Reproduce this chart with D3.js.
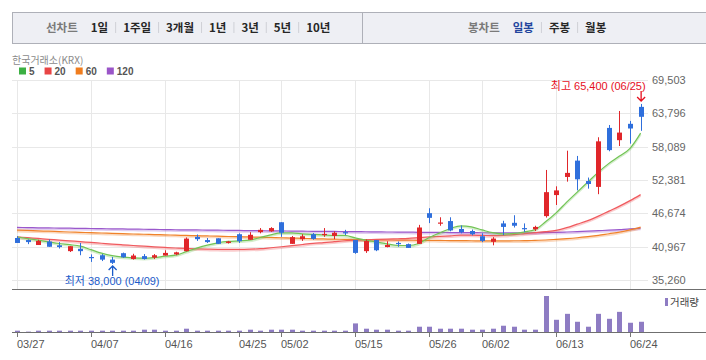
<!DOCTYPE html>
<html><head><meta charset="utf-8">
<script src="https://cdn.jsdelivr.net/npm/d3@7"></script>
<style>body{margin:0;background:#fff}svg{display:block}</style>
</head><body>
<svg id="c" width="706" height="360"></svg>
<script>
// ---------------- DATA ----------------
const dates = ["03/27","03/28","03/31","04/01","04/02","04/03","04/04","04/07","04/08","04/09",
"04/10","04/11","04/14","04/15","04/16","04/17","04/18","04/21","04/22","04/23",
"04/24","04/25","04/28","04/29","04/30","05/02","05/07","05/08","05/09","05/12",
"05/13","05/14","05/15","05/16","05/19","05/20","05/21","05/22","05/23","05/26",
"05/27","05/28","05/29","05/30","06/02","06/04","06/05","06/09","06/10","06/11",
"06/12","06/13","06/16","06/17","06/18","06/19","06/20","06/23","06/24","06/25"];
const openP = [42450,42100,41250,41850,41200,40200,40600,39200,39500,38750,
39850,38850,39350,39100,39450,39650,40200,42650,42100,42400,
41600,43100,42150,43450,43600,45150,41450,42250,43100,43000,
42800,43450,42100,40200,42100,40900,41600,41400,41450,46700,
45000,45350,44000,43650,42750,41800,44950,45050,44150,43950,
46200,49800,52900,55700,52200,51200,61300,59200,62000,64900];
const highP = [42750,42200,42150,42200,41750,41050,41600,39650,39700,39200,
39950,39750,39700,39700,40350,40100,42550,43050,42450,42400,
41950,43250,43450,44150,44300,45150,42800,43100,43300,44150,
43600,43850,42100,42200,42100,41900,41850,41500,44700,47550,
46000,46000,44600,43900,43250,42600,45400,46350,44950,44550,
54100,51300,57400,56500,52800,59700,61800,64200,62500,65400];
const lowP = [41600,41400,41250,40950,40650,40050,39500,38350,38500,38000,
39050,38750,38750,38850,39450,39500,40150,41950,41600,41450,
41500,41600,42150,43250,43500,42650,41450,41950,42150,42650,
42250,42950,39750,39900,40200,40850,40950,40750,41450,45000,
44550,43600,43250,42900,41750,41200,42950,44250,43500,43650,
45950,48100,52100,50600,50900,49950,57300,58200,58600,60800];
const closeP = [41600,41750,41950,40950,40900,41050,40200,39000,38750,38200,
39150,39450,38850,39500,39900,40000,42350,42250,41750,41450,
41850,41900,43000,43850,44150,43350,42600,42750,42300,43150,
43350,43300,39900,41950,40350,41250,41500,40750,44250,45900,
45100,43750,43450,43100,41950,42350,44350,44550,44000,44350,
50300,50600,53600,52500,51700,59000,57500,60500,61200,63200];
const ma5 = [42650,42350,42080,41790,41510,41310,41050,40450,39850,39420,
39170,39050,38990,39110,39340,39510,40110,40710,41220,41620,
41860,41960,42080,42540,42990,43330,43330,43160,43060,42990,
42900,42890,42470,42080,41790,41450,41170,41170,41510,42540,
43330,44080,44530,44360,43840,43360,43160,43230,43500,43880,
45220,46760,48590,50310,52020,53730,55230,56480,57800,60400];
const ma20 = [42650,42510,42370,42230,42100,41960,41820,41690,41550,41410,
41290,41170,41050,40930,40830,40740,40660,40590,40540,40500,
40490,40500,40540,40620,40780,40950,41140,41340,41530,41670,
41820,41980,42080,42150,42200,42250,42320,42390,42510,42630,
42730,42830,42940,42940,42890,42850,42900,43020,43190,43360,
43540,43760,44220,44820,45420,46190,47050,47910,48850,49880];
const ma60 = [43790,43740,43670,43620,43550,43480,43430,43360,43310,43240,
43190,43140,43090,43040,42990,42940,42890,42850,42800,42770,
42710,42680,42630,42590,42540,42490,42440,42390,42340,42290,
42250,42220,42180,42170,42130,42110,42100,42080,42060,42050,
42030,42010,41990,41980,41960,41960,41960,41980,41990,42050,
42110,42220,42340,42490,42680,42900,43180,43450,43830,44310];
const ma120 = [44260,44230,44200,44180,44150,44130,44100,44080,44050,44020,
44000,43970,43950,43920,43900,43860,43840,43830,43810,43790,
43760,43740,43720,43710,43670,43660,43640,43620,43600,43590,
43570,43550,43540,43520,43500,43480,43470,43450,43430,43420,
43400,43380,43360,43360,43350,43350,43350,43350,43350,43360,
43400,43430,43480,43550,43620,43710,43790,43900,44000,44140];
const volume = [133000,40000,133000,133000,133000,133000,133000,133000,133000,133000,
133000,133000,233000,233000,133000,133000,333000,133000,133000,133000,
133000,133000,233000,133000,233000,233000,233000,133000,133000,133000,
133000,133000,867000,333000,233000,233000,133000,133000,533000,533000,
333000,333000,333000,233000,233000,333000,633000,533000,233000,233000,
3633000,1233000,1833000,1033000,533000,1833000,1333000,2033000,933000,1033000];
const yTicks = [35260,40967,46674,52381,58089,63796,69503];
const xTickDates = ["03/27","04/07","04/16","04/25","05/02","05/15","05/26","06/02","06/13","06/24"];
const lineTabTitle = "선차트";
const periodTabs = ["1일","1주일","3개월","1년","3년","5년","10년"];
const candleTabTitle = "봉차트";
const candleTabs = ["일봉","주봉","월봉"];
const activeCandleTab = "일봉";
const exchangeLabel = "한국거래소(KRX)";
const maLabels = ["5","20","60","120"];
const volumeLabel = "거래량";
const highLabel = "최고";
const lowLabel = "최저";

// ---------------- STYLE / LAYOUT ----------------
const FN = "'Liberation Sans', Arial, 'Noto Sans CJK KR', sans-serif";
const FK = "'Noto Sans CJK KR', 'Liberation Sans', sans-serif";
const RED = "#e0262a", BLUE = "#2f6fdc";
const maColors = ["#72c455","#f05a5e","#f0822a","#9a58cc"];
const legendColors = ["#3cb043","#e84545","#f07d1e","#9a55c8"];
const svg = d3.select("#c");

// top bar
const bar = svg.append("g");
bar.append("rect").attr("x",12.5).attr("y",12.5).attr("width",350).attr("height",31)
  .attr("fill","#eeeff4").attr("stroke","#aeb0b8");
bar.append("rect").attr("x",362.5).attr("y",12.5).attr("width",360).attr("height",31)
  .attr("fill","#eeeff4").attr("stroke","#aeb0b8");
function tabs(x0, title, items, active){
  let x = x0;
  const t = bar.append("text").attr("x",x).attr("y",32).text(title)
    .attr("font-family",FK).attr("font-size",11.5).attr("font-weight","bold").attr("fill","#7a7a7a");
  x += t.node().getComputedTextLength() + 13;
  items.forEach((s,i)=>{
    if(i>0){
      bar.append("line").attr("x1",x+7.5).attr("x2",x+7.5).attr("y1",22).attr("y2",33).attr("stroke","#cfd0d6");
      x += 15;
    }
    const tt = bar.append("text").attr("x",x).attr("y",32).text(s)
      .attr("font-family",FK).attr("font-size",11.5).attr("font-weight","bold")
      .attr("fill", s===active ? "#23469e" : "#262626");
    x += tt.node().getComputedTextLength();
  });
}
tabs(46, lineTabTitle, periodTabs, null);
tabs(468, candleTabTitle, candleTabs, activeCandleTab);

// exchange + MA legend
svg.append("text").attr("x",12).attr("y",64).text(exchangeLabel)
  .attr("font-family",FK).attr("font-size",10).attr("fill","#8a8a8a");
{
  let lx = 19;
  maLabels.forEach((m,i)=>{
    svg.append("rect").attr("x",lx).attr("y",67.5).attr("width",7).attr("height",7).attr("fill",legendColors[i]);
    const t = svg.append("text").attr("x",lx+10).attr("y",75).text(m)
      .attr("font-family",FN).attr("font-size",10).attr("font-weight","bold").attr("fill","#555");
    lx += 10 + t.node().getComputedTextLength() + 10;
  });
}

// scales
const x = d3.scalePoint().domain(dates).range([17, 17 + 59*10.57]);
const y = d3.scaleLinear().domain([yTicks[0], yTicks[yTicks.length-1]]).range([280, 80]);
const yv = d3.scaleLinear().domain([0, d3.max(volume)]).range([332, 296]);
const L = 12, R = 648;

// grid
const grid = svg.append("g");
yTicks.forEach(v=>{
  const yy = Math.round(y(v))+0.5;
  grid.append("line").attr("x1",L).attr("x2",R).attr("y1",yy).attr("y2",yy).attr("stroke","#e8e8e8");
  svg.append("text").attr("x",652).attr("y",y(v)+4).text(d3.format(",")(v))
    .attr("font-family",FN).attr("font-size",11).attr("fill","#666");
});
xTickDates.forEach(d=>{
  const xx = Math.round(x(d))+0.5;
  grid.append("line").attr("x1",xx).attr("x2",xx).attr("y1",80).attr("y2",289).attr("stroke","#e8e8e8");
  svg.append("line").attr("x1",xx).attr("x2",xx).attr("y1",332).attr("y2",337).attr("stroke","#777");
  svg.append("text").attr("x",xx-0.5).attr("y",348).text(d)
    .attr("font-family",FN).attr("font-size",11).attr("fill","#555");
});

// MA lines
const lineGen = d3.line().x((d,i)=>x(dates[i])).y(d=>y(d)).curve(d3.curveMonotoneX);
[ma120, ma60, ma20, ma5].forEach((arr,k)=>{
  const col = maColors[3-k];
  svg.append("path").attr("d",lineGen(arr)).attr("fill","none").attr("stroke",col)
    .attr("stroke-width",2).attr("stroke-opacity",0.3).attr("transform","translate(0,1.2)");
  svg.append("path").attr("d",lineGen(arr)).attr("fill","none").attr("stroke",col)
    .attr("stroke-width",1.2);
});

// candles
const cg = svg.append("g");
dates.forEach((d,i)=>{
  const col = closeP[i] >= openP[i] ? RED : BLUE;
  const px = Math.round(x(d));
  cg.append("line").attr("x1",px+0.5).attr("x2",px+0.5)
    .attr("y1",y(highP[i])).attr("y2",y(lowP[i])).attr("stroke",col);
  const t = y(Math.max(openP[i],closeP[i])), b = y(Math.min(openP[i],closeP[i]));
  cg.append("rect").attr("x",px-2).attr("width",5).attr("y",t).attr("height",Math.max(1.2,b-t)).attr("fill",col);
});

// high / low annotations
{
  const hi = d3.maxIndex(highP), lo = d3.minIndex(lowP);
  const hx = x(dates[hi]), lx = x(dates[lo]);
  svg.append("text").attr("x",hx+5).attr("y",90).attr("text-anchor","end")
    .text(`${highLabel} ${d3.format(",")(highP[hi])} (${dates[hi]})`)
    .attr("font-family",FN).attr("font-size",11).attr("fill","#e60e1e");
  const ah = y(highP[hi]) - 3;
  svg.append("path").attr("d",`M${hx+0.5},${ah-10}V${ah}M${hx-3.5},${ah-4}L${hx+0.5},${ah}L${hx+4.5},${ah-4}`)
    .attr("fill","none").attr("stroke","#e60e1e").attr("stroke-width",1.3);
  const al = y(lowP[lo]) + 2;
  svg.append("path").attr("d",`M${lx+0.5},${al+10}V${al}M${lx-3.5},${al+4}L${lx+0.5},${al}L${lx+4.5},${al+4}`)
    .attr("fill","none").attr("stroke","#1b5bc9").attr("stroke-width",1.3);
  svg.append("text").attr("x",lx).attr("y",285).attr("text-anchor","middle")
    .text(`${lowLabel} ${d3.format(",")(lowP[lo])} (${dates[lo]})`)
    .attr("font-family",FN).attr("font-size",11).attr("fill","#1b5bc9");
}

// pane separators
svg.append("line").attr("x1",L).attr("x2",706).attr("y1",289.5).attr("y2",289.5).attr("stroke","#6f6f6f");

// volume
const vg = svg.append("g");
dates.forEach((d,i)=>{
  const px = Math.round(x(d));
  vg.append("rect").attr("x",px-2).attr("width",5).attr("y",yv(volume[i]))
    .attr("height",332-yv(volume[i])).attr("fill","#8e7cc3");
});
svg.append("line").attr("x1",L).attr("x2",706).attr("y1",332.5).attr("y2",332.5).attr("stroke","#6f6f6f");
svg.append("rect").attr("x",665).attr("y",298).attr("width",3).attr("height",8).attr("fill","#8e7cc3");
svg.append("text").attr("x",670).attr("y",306).text(volumeLabel)
  .attr("font-family",FK).attr("font-size",10.5).attr("fill","#444");
</script>
</body></html>
